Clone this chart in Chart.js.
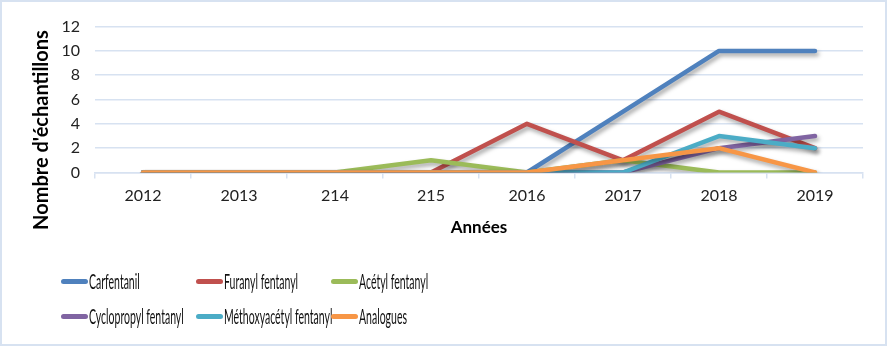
<!DOCTYPE html>
<html lang="fr">
<head>
<meta charset="utf-8">
<script src="https://cdn.jsdelivr.net/npm/chart.js@4"></script>
<style>
    body { margin: 0; background: #fff; }
    #wrap {
        position: relative;
        width: 887px;
        height: 346px;
        box-sizing: border-box;
        border: 2px solid #d7e2f1;
        background: #fff;
    }
    #chartBox { position: absolute; left: 0; top: 0; width: 883px; height: 245px; }
    #legend { position: absolute; left: 0; top: 0; width: 883px; height: 342px; pointer-events: none; }
    .item { position: absolute; height: 24px; }
    .item .swatch {
        position: absolute; left: 0; top: 10px;
        width: 27px; height: 5px; border-radius: 3px;
    }
    .item .label {
        position: absolute; left: 28px; top: 0;
        font-family: Lato, "Liberation Sans", sans-serif;
        font-size: 21px; line-height: 24px; color: #111;
        white-space: nowrap;
        transform: scaleX(0.5); transform-origin: left center;
    }
</style>
</head>
<body>
<div id="wrap">
    <div id="chartBox"><canvas id="fentanylChart"></canvas></div>
    <div id="legend"></div>
</div>
<script>
document.addEventListener("DOMContentLoaded", function() {
    // Years on the x axis (labels kept as published)
    const years = ['2012', '2013', '214', '215', '2016', '2017', '2018', '2019'];

    // Number of samples per substance
    const carfentanil = [0, 0, 0, 0, 0, 5, 10, 10];
    const furanylFentanyl = [0, 0, 0, 0, 4, 1, 5, 2];
    const acetylFentanyl = [0, 0, 0, 1, 0, 1, 0, 0];
    const cyclopropylFentanyl = [0, 0, 0, 0, 0, 0, 2, 3];
    const methoxyacetylFentanyl = [0, 0, 0, 0, 0, 0, 3, 2];
    const analogues = [0, 0, 0, 0, 0, 1, 2, 0];

    const seriesNames = ['Carfentanil', 'Furanyl fentanyl', 'Acétyl fentanyl',
        'Cyclopropyl fentanyl', 'Méthoxyacétyl fentanyl', 'Analogues'];
    const seriesData = [carfentanil, furanylFentanyl, acetylFentanyl,
        cyclopropylFentanyl, methoxyacetylFentanyl, analogues];
    const colors = ['#4f81bd', '#c0504d', '#9bbb59', '#8064a2', '#4bacc6', '#f79646'];

    const gridColor = '#d7e2f1';
    const fontFamily = 'Lato, "Liberation Sans", sans-serif';

    const datasets = seriesData.map((values, i) => ({
        label: seriesNames[i],
        data: values,
        borderColor: colors[i],
        backgroundColor: colors[i],
        borderWidth: 4.5,
        borderCapStyle: 'round',
        borderJoinStyle: 'round',
        pointRadius: 0,
        tension: 0,
        fill: false,
        order: seriesData.length - i // later series drawn on top
    }));

    // Soft drop shadow under the lines
    const lineShadow = {
        id: 'lineShadow',
        beforeDatasetsDraw(chart) {
            const c = chart.ctx;
            c.save();
            c.shadowColor = 'rgba(0, 0, 0, 0.35)';
            c.shadowBlur = 4;
            c.shadowOffsetX = 2;
            c.shadowOffsetY = 3;
        },
        afterDatasetsDraw(chart) {
            chart.ctx.restore();
        }
    };

    // Vertical axis title, drawn by hand so it can sit lower than the plot centre
    const yTitle = {
        id: 'yTitle',
        afterDraw(chart) {
            const c = chart.ctx;
            c.save();
            c.translate(40, 128);
            c.rotate(-Math.PI / 2);
            c.font = 'bold 20px ' + fontFamily;
            c.fillStyle = '#000';
            c.textAlign = 'center';
            c.textBaseline = 'middle';
            c.fillText("Nombre d'échantillons", 0, 0);
            c.restore();
        }
    };

    const ctx = document.getElementById('fentanylChart').getContext('2d');
    new Chart(ctx, {
        type: 'line',
        data: { labels: years, datasets: datasets },
        plugins: [lineShadow, yTitle],
        options: {
            responsive: true,
            maintainAspectRatio: false,
            animation: false,
            layout: { padding: { top: 20, right: 22, bottom: 0, left: 0 } },
            plugins: {
                legend: { display: false },
                tooltip: { enabled: false }
            },
            scales: {
                x: {
                    offset: true,
                    grid: {
                        offset: true,
                        drawOnChartArea: false,
                        color: gridColor,
                        lineWidth: 1.5,
                        tickLength: 6
                    },
                    border: { color: gridColor, width: 1.5 },
                    ticks: {
                        color: '#222',
                        padding: 8,
                        maxRotation: 0,
                        font: { family: fontFamily, size: 16 }
                    },
                    title: {
                        display: true,
                        text: 'Années',
                        color: '#000',
                        font: { family: fontFamily, size: 17, weight: 'bold' },
                        padding: { top: 8, bottom: 9 }
                    },
                    afterFit(scale) { scale.height = 74.5; }
                },
                y: {
                    min: 0,
                    max: 12,
                    ticks: {
                        stepSize: 2,
                        color: '#222',
                        padding: 15,
                        font: { family: fontFamily, size: 16 }
                    },
                    grid: { color: gridColor, lineWidth: 1.5, drawTicks: false },
                    border: { display: false },
                    afterFit(scale) { scale.width = 93; }
                }
            }
        }
    });

    // Legend in two rows of three, below the chart
    const legendPos = [[59, 267], [194, 267], [329, 267], [59, 302], [194, 302], [329, 302]];
    const legend = document.getElementById('legend');
    seriesNames.forEach((name, i) => {
        const item = document.createElement('div');
        item.className = 'item';
        item.style.left = legendPos[i][0] + 'px';
        item.style.top = legendPos[i][1] + 'px';
        item.innerHTML = '<div class="swatch" style="background:' + colors[i] + '"></div>' +
            '<div class="label">' + name + '</div>';
        legend.appendChild(item);
    });
});
</script>
</body>
</html>
